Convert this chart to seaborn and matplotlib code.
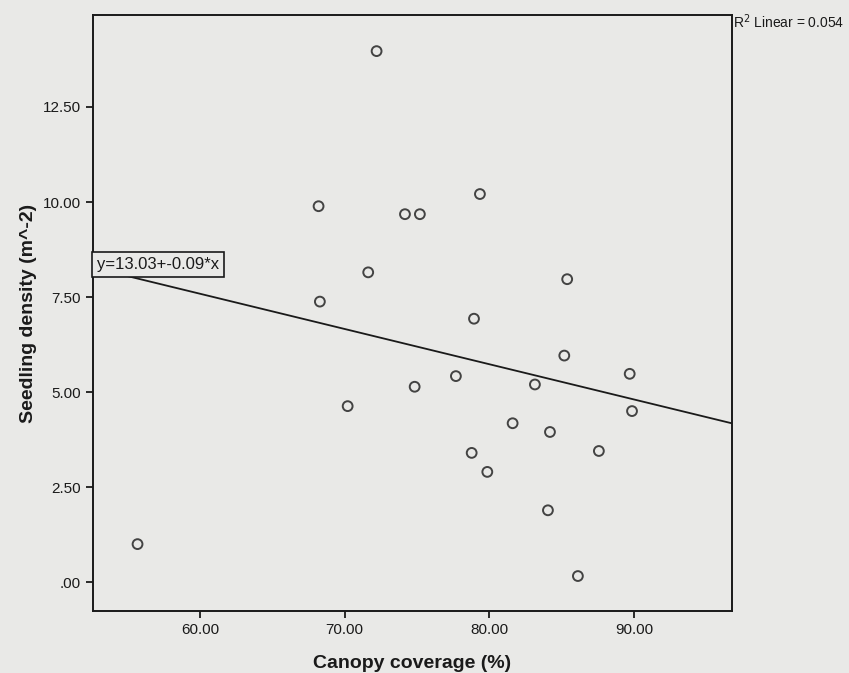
import numpy as np
import pandas as pd
import matplotlib
matplotlib.use('Agg')
import matplotlib.pyplot as plt
import seaborn as sns

# values
canopy = [72.21, 79.35, 68.20, 74.17, 75.20, 71.63, 85.38, 68.29, 78.94, 85.18, 77.69, 74.84,
          83.15, 89.70, 70.21, 89.86, 81.61, 84.19, 78.78, 87.57, 79.86, 84.05, 55.69, 86.12]
seedling = [13.97, 10.21, 9.89, 9.68, 9.68, 8.15, 7.97, 7.38, 6.93, 5.96, 5.42, 5.14,
            5.20, 5.48, 4.63, 4.50, 4.18, 3.95, 3.40, 3.45, 2.90, 1.89, 1.00, 0.16]
xticks = [60, 70, 80, 90]
xticklabels = ['60.00', '70.00', '80.00', '90.00']
yticks = [0, 2.5, 5, 7.5, 10, 12.5]
yticklabels = ['.00', '2.50', '5.00', '7.50', '10.00', '12.50']

df = pd.DataFrame({'Canopy coverage (%)': canopy, 'Seedling density (m^-2)': seedling})

sns.set_style('ticks')
plt.rcParams['font.family'] = ['Liberation Sans', 'DejaVu Sans']

paper = '#e9e9e7'
fig = plt.figure(figsize=(8.49, 6.73), dpi=100, facecolor=paper)
ax = fig.add_axes([0.1095, 0.0921, 0.7527, 0.8856])
ax.set_facecolor(paper)
ax.set_xlim(52.61, 96.77)
ax.set_ylim(-0.76, 14.92)

sns.regplot(data=df, x='Canopy coverage (%)', y='Seedling density (m^-2)', ax=ax,
            ci=None, truncate=False,
            scatter_kws={'s': 50, 'facecolors': 'none', 'edgecolors': '#1a1a1a', 'linewidths': 1.4},
            line_kws={'color': '#1a1a1a', 'lw': 1.3})

ax.set_xlim(52.61, 96.77)
ax.set_ylim(-0.76, 14.92)
ax.set_xticks(xticks)
ax.set_xticklabels(xticklabels)
ax.set_yticks(yticks)
ax.set_yticklabels(yticklabels)
ax.tick_params(direction='out', length=5, width=1.3, labelsize=11, colors='#1a1a1a')
for s in ax.spines.values():
    s.set_color('#1a1a1a')
    s.set_linewidth(1.4)

ax.set_xlabel('Canopy coverage (%)', fontsize=14, fontweight='bold', labelpad=13, color='#1a1a1a')
ax.set_ylabel('Seedling density (m^-2)', fontsize=14, fontweight='bold', labelpad=4, color='#1a1a1a')

# equation label box on the fitted line
ax.text(0.006, 0.581, 'y=13.03+-0.09*x', transform=ax.transAxes, fontsize=12,
        va='center', ha='left', zorder=5, color='#1a1a1a',
        bbox=dict(boxstyle='square,pad=0.3', facecolor=paper, edgecolor='#1a1a1a', lw=1.2))

fig.text(0.8634, 0.968, 'R$^2$ Linear = 0.054', fontsize=10, ha='left', va='center', color='#1a1a1a')

fig.savefig('out.png', dpi=100, facecolor=paper)
